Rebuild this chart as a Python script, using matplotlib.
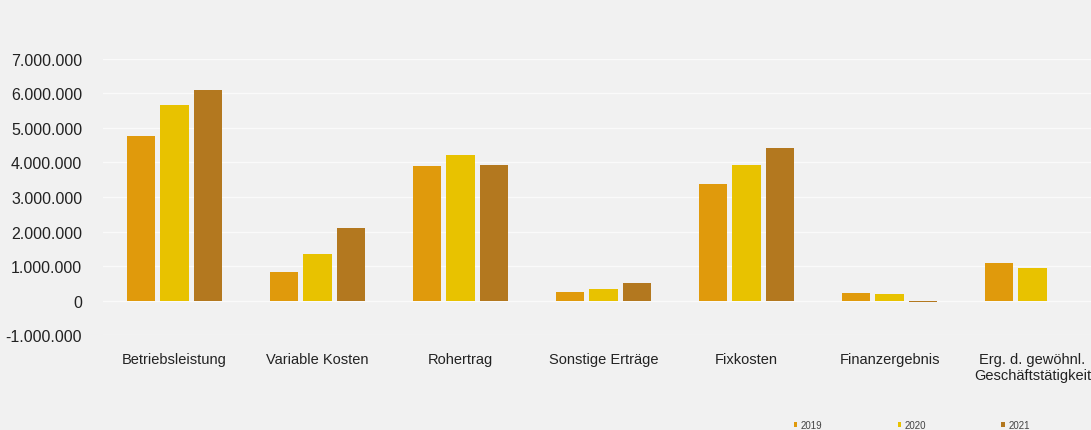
"""Betriebskennzahlen 2019-2021 als gruppiertes Balkendiagramm."""

import matplotlib
matplotlib.use("Agg")
import matplotlib.pyplot as plt
import numpy as np
from matplotlib.ticker import FuncFormatter

categories = [
    "Betriebsleistung",
    "Variable Kosten",
    "Rohertrag",
    "Sonstige Erträge",
    "Fixkosten",
    "Finanzergebnis",
    "Erg. d. gewöhnl.\nGeschäftstätigkeit",
]
years = ["2019", "2020", "2021"]
values_2019 = [4780000, 820000, 3910000, 260000, 3390000, 230000, 1100000]
values_2020 = [5680000, 1360000, 4230000, 320000, 3940000, 200000, 930000]
values_2021 = [6100000, 2090000, 3940000, 500000, 4410000, -50000, np.nan]
colors = ["#e09a0c", "#e8c200", "#b3781f"]

plt.rcParams["font.family"] = ["Liberation Sans", "DejaVu Sans"]

bg = "#f1f1f1"
fig = plt.figure(figsize=(10.91, 4.31), dpi=100, facecolor=bg)
ax = fig.add_axes([0.0944, 0.2204, 0.9056, 0.6404])
ax.set_facecolor(bg)

x = np.arange(len(categories))
offset = 0.234
width = 0.196
series = [values_2019, values_2020, values_2021]
for i, (vals, col, yr) in enumerate(zip(series, colors, years)):
    ax.bar(x + (i - 1) * offset, vals, width, color=col, label=yr, zorder=3)

ax.set_xlim(-0.5, 6.409)
ax.set_ylim(-1000000, 7000000)
ax.set_yticks(np.arange(-1000000, 7000001, 1000000))
ax.yaxis.set_major_formatter(
    FuncFormatter(lambda v, _: f"{int(v):,}".replace(",", "."))
)
ax.set_xticks(x)
ax.set_xticklabels(categories)
ax.tick_params(axis="y", length=0, pad=15, labelsize=11.5, labelcolor="#222222")
ax.tick_params(axis="x", length=0, pad=12, labelsize=10.5, labelcolor="#222222")
ax.grid(axis="y", color="#fafafa", linewidth=1.0, zorder=0)
for s in ax.spines.values():
    s.set_visible(False)

fig.legend(
    loc="lower left",
    bbox_to_anchor=(785 / 1091, -0.02),
    ncol=3,
    frameon=False,
    fontsize=7,
    handlelength=0.35,
    handleheight=0.35,
    handletextpad=0.4,
    columnspacing=7.7,
    labelcolor="#444444",
)

fig.savefig("out.png", dpi=100, facecolor=fig.get_facecolor())
